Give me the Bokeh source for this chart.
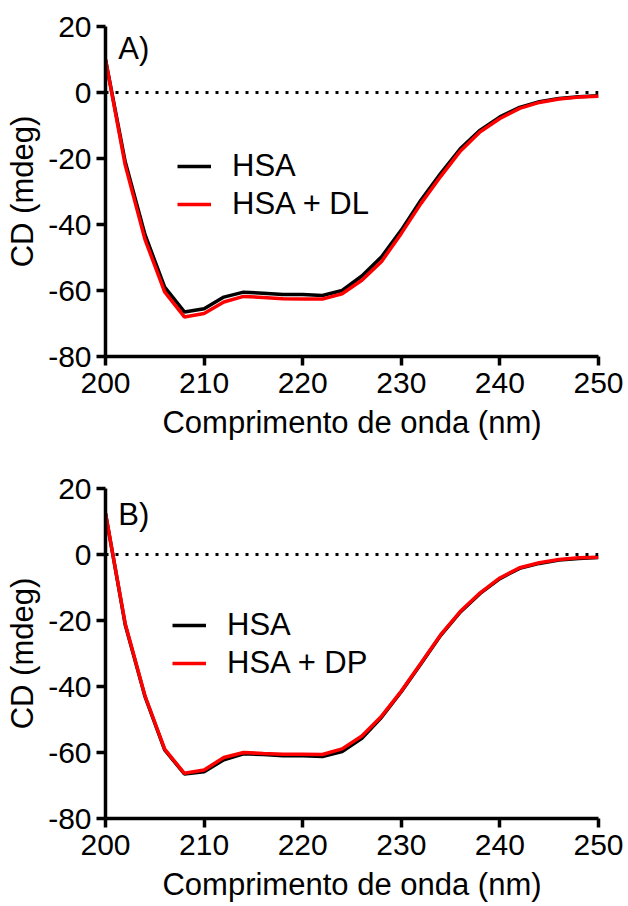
from bokeh.plotting import figure
from bokeh.layouts import column
from bokeh.models import Span, Label, Legend, LegendItem, Range1d, FixedTicker
from bokeh.embed import file_html
from bokeh.resources import INLINE

wavelength = [200, 202, 204, 206, 208, 210, 212, 214, 216, 218, 220, 222, 224,
              226, 228, 230, 232, 234, 236, 238, 240, 242, 244, 246, 248, 250]

hsa_a = [10, -21, -43, -59, -66.5, -65.5, -62, -60.5, -60.8, -61.2, -61.2, -61.5, -60,
         -55.6, -49.8, -41.7, -32.6, -24.5, -17, -11.4, -7.4, -4.5, -2.8, -1.8, -1.3, -1.0]
hsa_dl = [10, -22, -44.5, -60.4, -68, -67, -63.5, -61.8, -62.1, -62.5, -62.6, -62.6, -61,
          -56.9, -51.2, -42.7, -33.6, -25.4, -17.7, -11.9, -7.9, -4.8, -3.0, -2.0, -1.4, -1.1]

hsa_b = [12.5, -21.3, -43, -59.2, -66.5, -65.8, -62.2, -60.4, -60.6, -61, -61, -61.2, -59.7,
         -55.7, -49.3, -41.6, -33.1, -24.5, -17.4, -11.8, -7.3, -4.2, -2.7, -1.7, -1.2, -0.9]
hsa_dp = [12.5, -21, -42.8, -59, -66.3, -65.3, -61.5, -60, -60.3, -60.5, -60.5, -60.6, -58.9,
          -55, -49, -41.4, -32.9, -24.3, -17.2, -11.6, -7.1, -4.0, -2.5, -1.5, -1.0, -0.8]

x_ticks = [200, 210, 220, 230, 240, 250]
y_ticks = [-80, -60, -40, -20, 0, 20]
y_tick_labels = ["-80", "-60", "-40", "-20", "0", "20"]

FONT = "Liberation Sans"
FS = "31px"


def make_panel(y_black, y_red, label_black, label_red, panel_label, top, bottom,
               leg_x, leg_y, lab_y):
    p = figure(width=628, height=453, output_backend="svg", toolbar_location=None,
               x_range=Range1d(200, 250), y_range=Range1d(-80, 20),
               min_border_left=105, min_border_right=30,
               min_border_top=top, min_border_bottom=bottom)
    p.outline_line_color = None
    p.xgrid.visible = False
    p.ygrid.visible = False
    p.background_fill_color = "white"
    p.border_fill_color = "white"

    for ax in (p.xaxis[0], p.yaxis[0]):
        ax.axis_line_width = 3.5
        ax.axis_line_color = "black"
        ax.major_tick_line_width = 3.5
        ax.major_tick_line_color = "black"
        ax.major_tick_out = 9
        ax.major_tick_in = 0
        ax.minor_tick_line_color = None
        ax.major_label_text_font = FONT
        ax.major_label_text_font_size = "30px"
        ax.major_label_text_color = "black"
        ax.axis_label_text_font = FONT
        ax.axis_label_text_font_size = FS
        ax.axis_label_text_font_style = "normal"
        ax.axis_label_text_color = "black"

    p.xaxis[0].ticker = FixedTicker(ticks=x_ticks)
    p.yaxis[0].ticker = FixedTicker(ticks=y_ticks)
    p.yaxis[0].major_label_overrides = dict(zip(y_ticks, y_tick_labels))
    p.xaxis[0].axis_label = "Comprimento de onda (nm)"
    p.yaxis[0].axis_label = "CD (mdeg)"
    p.xaxis[0].major_label_standoff = 7
    p.yaxis[0].major_label_standoff = 5
    p.xaxis[0].axis_label_standoff = 9
    p.yaxis[0].axis_label_standoff = 5

    p.add_layout(Span(location=0, dimension="width", line_color="black",
                      line_width=3, line_dash="3 7"))

    r1 = p.line(wavelength, y_black, line_color="black", line_width=3.5)
    r2 = p.line(wavelength, y_red, line_color="#ff0000", line_width=3.5)

    legend = Legend(items=[LegendItem(label=label_black, renderers=[r1]),
                           LegendItem(label=label_red, renderers=[r2])],
                    location=(leg_x, leg_y),
                    glyph_width=34, glyph_height=38, label_height=38,
                    label_standoff=21, spacing=0, padding=0, margin=0,
                    background_fill_alpha=0, border_line_alpha=0,
                    label_text_font=FONT, label_text_font_size=FS,
                    label_text_color="black")
    p.add_layout(legend)

    p.add_layout(Label(x=201.3, y=lab_y, text=panel_label, text_font=FONT,
                       text_font_size=FS, text_color="black",
                       text_baseline="alphabetic"))
    return p


pa = make_panel(hsa_a, hsa_dl, "HSA", "HSA + DL", "A)", 26, 97, 72, 133, 13.2)
pb = make_panel(hsa_b, hsa_dp, "HSA", "HSA + DP", "B)", 35, 88, 67, 136, 12.0)

layout = column(pa, pb, spacing=0)
open("out.html", "w").write(file_html(layout, INLINE))
